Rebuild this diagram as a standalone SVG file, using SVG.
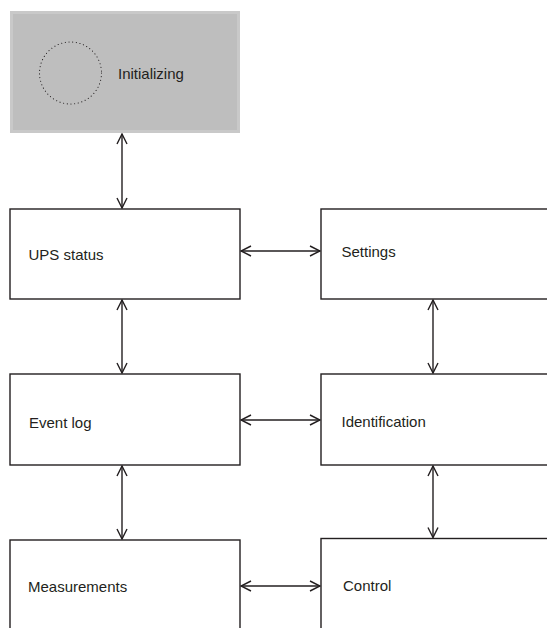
<svg xmlns="http://www.w3.org/2000/svg" width="547" height="628" viewBox="0 0 547 628">
<style>
.box{fill:#ffffff;stroke:#231f20;stroke-width:1.4}
.lbl{font-family:"Liberation Sans",Arial,sans-serif;font-size:15px;fill:#231f20}
.conn{stroke:#231f20;stroke-width:1.4;fill:none;marker-start:url(#ah);marker-end:url(#ah)}
</style>
<defs>
<marker id="ah" viewBox="0 0 12 12" refX="11" refY="6" markerWidth="12" markerHeight="12" markerUnits="userSpaceOnUse" orient="auto-start-reverse">
<path d="M1,1 L11,6 L1,11" fill="none" stroke="#231f20" stroke-width="1.4"/>
</marker>
</defs>
<rect width="547" height="628" fill="#ffffff"/>
<g id="initializing">
<rect x="10" y="11" width="230" height="122" fill="#c9c9c9"/>
<rect x="13" y="14" width="224" height="116" fill="#bebebe"/>
<circle cx="70.5" cy="73" r="31" fill="none" stroke="#231f20" stroke-width="1.1" stroke-dasharray="0.1 3.6" stroke-linecap="round"/>
<text class="lbl" x="118" y="79">Initializing</text>
</g>
<g id="ups-status">
<rect class="box" x="10" y="209" width="230" height="90"/>
<text class="lbl" x="28.5" y="260">UPS status</text>
</g>
<g id="settings">
<rect class="box" x="321" y="209" width="240" height="90"/>
<text class="lbl" x="341.5" y="257">Settings</text>
</g>
<g id="event-log">
<rect class="box" x="10" y="374" width="230" height="91"/>
<text class="lbl" x="29" y="428">Event log</text>
</g>
<g id="identification">
<rect class="box" x="321" y="374" width="240" height="91"/>
<text class="lbl" x="341.5" y="427">Identification</text>
</g>
<g id="measurements">
<rect class="box" x="10" y="540" width="230" height="100"/>
<text class="lbl" x="28" y="592">Measurements</text>
</g>
<g id="control">
<rect class="box" x="321" y="538.5" width="240" height="100"/>
<text class="lbl" x="343" y="591">Control</text>
</g>
<g id="connectors">
<line class="conn" x1="122" y1="134" x2="122" y2="208"/>
<line class="conn" x1="122" y1="300" x2="122" y2="373"/>
<line class="conn" x1="122" y1="466" x2="122" y2="539"/>
<line class="conn" x1="433" y1="300" x2="433" y2="373"/>
<line class="conn" x1="433" y1="466" x2="433" y2="537.5"/>
<line class="conn" x1="241" y1="251" x2="320" y2="251"/>
<line class="conn" x1="241" y1="420" x2="320" y2="420"/>
<line class="conn" x1="241" y1="586" x2="320" y2="586"/>
</g>
</svg>
